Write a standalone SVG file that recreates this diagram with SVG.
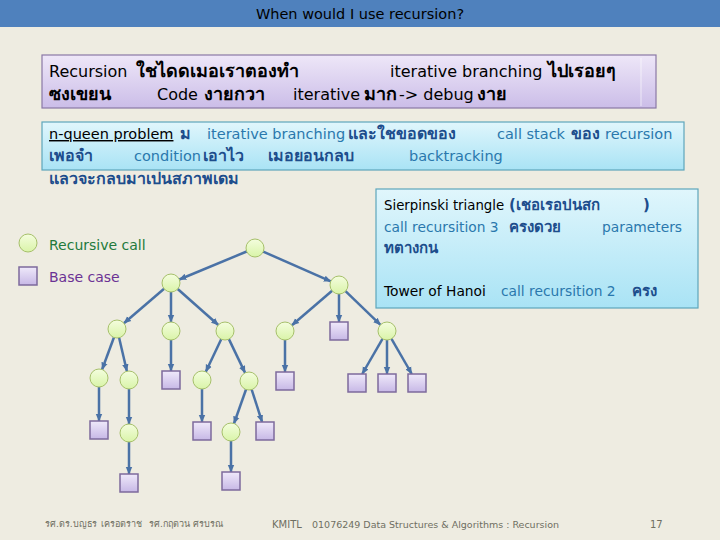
<svg xmlns="http://www.w3.org/2000/svg" width="720" height="540" viewBox="0 0 720 540">
<defs>
<linearGradient id="gPurple" x1="0" y1="0" x2="0" y2="1"><stop offset="0" stop-color="#eee7f8"/><stop offset="1" stop-color="#cbbde8"/></linearGradient>
<linearGradient id="gCyan" x1="0" y1="0" x2="0" y2="1"><stop offset="0" stop-color="#e0f6fc"/><stop offset="1" stop-color="#a9e3f5"/></linearGradient>
<linearGradient id="gCircle" x1="0" y1="0" x2="0" y2="1"><stop offset="0" stop-color="#f4fdde"/><stop offset="1" stop-color="#d9f4a8"/></linearGradient>
<linearGradient id="gSquare" x1="0" y1="0" x2="0" y2="1"><stop offset="0" stop-color="#efe9fa"/><stop offset="1" stop-color="#c7b8e6"/></linearGradient>
<marker id="arr" markerUnits="userSpaceOnUse" markerWidth="8" markerHeight="8" viewBox="0 0 8 8" refX="7" refY="4" orient="auto"><path d="M0,0.8 L7.5,4 L0,7.2 z" fill="#4a72a6"/></marker>
</defs>
<style>
.t{font-family:"DejaVu Sans","Noto Sans",sans-serif}
.c{fill:url(#gCircle);stroke:#a6c06a;stroke-width:1}
.s{fill:url(#gSquare);stroke:#7d6a9c;stroke-width:1.5}
.e{stroke:#4a72a6;stroke-width:2.5;fill:none;marker-end:url(#arr)}
.b1{font-size:16px;fill:#000}
.b1 .k{font-size:18px;font-weight:bold}
.b2{font-size:14.5px;fill:#2a78ad}
.b2 .th{font-size:16px}
.b3{font-size:13.8px;fill:#2a78ad}
.b3 .th{font-size:15px}
.th{fill:#1d4d8c;font-weight:bold}
.blk{fill:#000}
.ft{font-size:9px;fill:#6f6f62}
</style>
<rect x="0" y="0" width="720" height="540" fill="#eeece1"/>
<rect x="0" y="0" width="720" height="27" fill="#4f81bd"/>
<text class="t" x="360" y="19" font-size="14.5" text-anchor="middle" fill="#000">When would I use recursion?</text>

<g id="box1">
<rect x="42" y="55" width="614" height="53" fill="url(#gPurple)" stroke="#8a78a6" stroke-width="1.2"/>
<line x1="641" y1="58" x2="641" y2="106" stroke="#ffffff" stroke-opacity="0.6" stroke-width="1"/>
<text class="t b1" y="77"><tspan x="49">Recursion</tspan><tspan x="136" class="k">ใชไดดเมอเราตองทำ</tspan><tspan x="390">iterative branching</tspan><tspan x="548" class="k">ไปเรอยๆ</tspan></text>
<text class="t b1" y="100"><tspan x="49" class="k">ซงเขยน</tspan><tspan x="157">Code</tspan><tspan x="204" class="k">งายกวา</tspan><tspan x="293">iterative</tspan><tspan x="364" class="k">มาก</tspan><tspan x="399">-&gt; debug</tspan><tspan x="477" class="k">งาย</tspan></text>
</g>

<g id="box2">
<rect x="42" y="122" width="642" height="48" fill="url(#gCyan)" stroke="#5ea6bb" stroke-width="1.2"/>
<text class="t b2" y="139"><tspan x="49" class="blk" text-decoration="underline">n-queen problem</tspan><tspan x="180" class="th">ม</tspan><tspan x="207">iterative branching</tspan><tspan x="348" class="th">และใชขอดของ</tspan><tspan x="497">call stack</tspan><tspan x="571" class="th">ของ</tspan><tspan x="605">recursion</tspan></text>
<text class="t b2" y="161"><tspan x="49" class="th">เพอจำ</tspan><tspan x="134">condition</tspan><tspan x="203" class="th">เอาไว</tspan><tspan x="268" class="th">เมอยอนกลบ</tspan><tspan x="409">backtracking</tspan></text>
<text class="t b2" y="184"><tspan x="49" class="th">แลวจะกลบมาเปนสภาพเดม</tspan></text>
</g>

<g id="box3">
<rect x="376" y="189" width="322" height="119" fill="url(#gCyan)" stroke="#5ea6bb" stroke-width="1.2"/>
<text class="t b3" y="210"><tspan x="384" class="blk" font-size="13.3">Sierpinski triangle</tspan><tspan x="509" class="th">(เชอเรอปนสก</tspan><tspan x="643" class="th">)</tspan></text>
<text class="t b3" y="232"><tspan x="384">call recursition 3</tspan><tspan x="509" class="th">ครงดวย</tspan><tspan x="602">parameters</tspan></text>
<text class="t b3" y="253"><tspan x="384" class="th">ทตางกน</tspan></text>
<text class="t b3" y="296"><tspan x="384" class="blk">Tower of Hanoi</tspan><tspan x="501">call recursition 2</tspan><tspan x="632" class="th">ครง</tspan></text>
</g>

<g id="legend">
<circle class="c" cx="28" cy="243" r="9"/>
<text class="t" x="49" y="250" font-size="14" fill="#237a3c">Recursive call</text>
<rect class="s" x="19" y="267" width="18" height="18"/>
<text class="t" x="49" y="282" font-size="14" fill="#6b3294">Base case</text>
</g>

<g id="connectors">
<line class="e" x1="246.7" y1="251.5" x2="179.3" y2="279.5"/>
<line class="e" x1="263.2" y1="251.6" x2="330.8" y2="281.4"/>
<line class="e" x1="164.1" y1="288.8" x2="123.9" y2="323.2"/>
<line class="e" x1="171" y1="292" x2="171" y2="322"/>
<line class="e" x1="177.7" y1="289" x2="218.3" y2="325"/>
<line class="e" x1="332.1" y1="290.8" x2="291.9" y2="325.2"/>
<line class="e" x1="339" y1="294" x2="339" y2="322"/>
<line class="e" x1="345.5" y1="291.2" x2="380.5" y2="324.8"/>
<line class="e" x1="113.9" y1="337.5" x2="102.1" y2="369.5"/>
<line class="e" x1="119.1" y1="337.8" x2="126.9" y2="371.2"/>
<line class="e" x1="171" y1="340" x2="171" y2="371"/>
<line class="e" x1="221.2" y1="339.2" x2="205.8" y2="371.8"/>
<line class="e" x1="228.9" y1="339.1" x2="245.1" y2="372.9"/>
<line class="e" x1="285" y1="340" x2="285" y2="372"/>
<line class="e" x1="382.5" y1="338.8" x2="362.2" y2="374"/>
<line class="e" x1="387" y1="340" x2="387" y2="374"/>
<line class="e" x1="391.5" y1="338.8" x2="411.8" y2="374"/>
<line class="e" x1="99" y1="387" x2="99" y2="421"/>
<line class="e" x1="129" y1="389" x2="129" y2="424"/>
<line class="e" x1="202" y1="389" x2="202" y2="422"/>
<line class="e" x1="246" y1="389.5" x2="234" y2="423.5"/>
<line class="e" x1="251.7" y1="389.6" x2="262.1" y2="422"/>
<line class="e" x1="129" y1="442" x2="129" y2="474"/>
<line class="e" x1="231" y1="441" x2="231" y2="472"/>
</g>

<g id="n-root"><circle class="c" cx="255" cy="248" r="9"/></g>
<g id="n-l1a"><circle class="c" cx="171" cy="283" r="9"/></g>
<g id="n-l1b"><circle class="c" cx="339" cy="285" r="9"/></g>
<g id="n-l2a"><circle class="c" cx="117" cy="329" r="9"/></g>
<g id="n-l2b"><circle class="c" cx="171" cy="331" r="9"/></g>
<g id="n-l2c"><circle class="c" cx="225" cy="331" r="9"/></g>
<g id="n-l2d"><circle class="c" cx="285" cy="331" r="9"/></g>
<g id="n-l2e"><rect class="s" x="330" y="322" width="18" height="18"/></g>
<g id="n-l2f"><circle class="c" cx="387" cy="331" r="9"/></g>
<g id="n-l3a"><circle class="c" cx="99" cy="378" r="9"/></g>
<g id="n-l3b"><circle class="c" cx="129" cy="380" r="9"/></g>
<g id="n-l3c"><rect class="s" x="162" y="371" width="18" height="18"/></g>
<g id="n-l3d"><circle class="c" cx="202" cy="380" r="9"/></g>
<g id="n-l3e"><circle class="c" cx="249" cy="381" r="9"/></g>
<g id="n-l3f"><rect class="s" x="276" y="372" width="18" height="18"/></g>
<g id="n-l3g"><rect class="s" x="348" y="374" width="18" height="18"/></g>
<g id="n-l3h"><rect class="s" x="378" y="374" width="18" height="18"/></g>
<g id="n-l3i"><rect class="s" x="408" y="374" width="18" height="18"/></g>
<g id="n-l4a"><rect class="s" x="90" y="421" width="18" height="18"/></g>
<g id="n-l4b"><circle class="c" cx="129" cy="433" r="9"/></g>
<g id="n-l4c"><rect class="s" x="193" y="422" width="18" height="18"/></g>
<g id="n-l4d"><circle class="c" cx="231" cy="432" r="9"/></g>
<g id="n-l4e"><rect class="s" x="256" y="422" width="18" height="18"/></g>
<g id="n-l5a"><rect class="s" x="120" y="474" width="18" height="18"/></g>
<g id="n-l5b"><rect class="s" x="222" y="472" width="18" height="18"/></g>

<g id="footer">
<text class="t ft" y="527"><tspan x="45">รศ.ดร.บญธร</tspan><tspan x="101">เครอตราช</tspan><tspan x="149">รศ.กฤตวน  ศรบรณ</tspan></text>
<text class="t" x="272" y="528" font-size="10" fill="#6f6f62">KMITL</text>
<text class="t" x="312" y="528" font-size="9.5" fill="#6f6f62">01076249 Data Structures &amp; Algorithms : Recursion</text>
<text class="t" x="650" y="528" font-size="10" fill="#6f6f62">17</text>
</g>
</svg>
